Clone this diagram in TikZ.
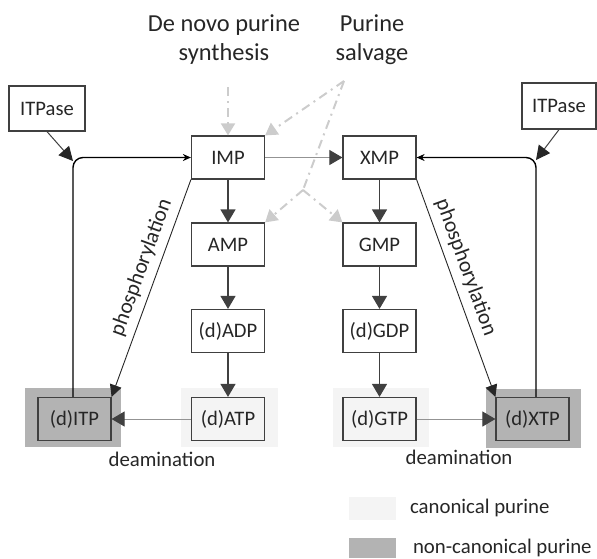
\documentclass[tikz,border=0pt]{standalone}
\usepackage{fontspec}
\setmainfont{Carlito}
\usepackage{xcolor}
\usetikzlibrary{arrows.meta}
\definecolor{boxline}{HTML}{404040}
\definecolor{txtgray}{HTML}{262626}
\definecolor{noncan}{HTML}{B3B3B3}
\definecolor{canon}{HTML}{F4F4F4}
\definecolor{salv}{HTML}{CCCCCC}

\begin{document}
\begin{tikzpicture}[x=0.5pt,y=-0.5pt,
  mol/.style={draw=boxline,line width=0.6pt,minimum width=36.5pt,minimum height=21.5pt,inner sep=0pt,text=txtgray,font=\fontsize{10.3}{12}\selectfont},
  lbl/.style={text=txtgray,font=\fontsize{10.4}{12}\selectfont},
  chain/.style={draw=boxline,line width=0.6pt,-{Triangle[length=6.5pt,width=7.5pt]}},
  thinarr/.style={draw=gray!85,line width=0.5pt,-{Triangle[length=6.5pt,width=7.5pt,color=boxline]}},
  loop/.style={draw=black,line width=0.7pt,rounded corners=5pt,-{Stealth[length=4pt,width=3.5pt]}},
  itparr/.style={draw=boxline,line width=0.5pt,-{Triangle[length=7pt,width=7pt,color=black!85]}},
  phos/.style={draw=black!85,line width=0.45pt,-{Triangle[length=6pt,width=6pt]}},
  salvage/.style={draw=salv,line width=1pt,dash pattern=on 4.5pt off 2.5pt on 1pt off 2.5pt,-{Triangle[length=6pt,width=7pt]}}
]
%\draw[help lines](0,0)grid(597,558);
\useasboundingbox (0,0) rectangle (597,558);

% shaded backgrounds
\fill[noncan] (25,388) rectangle (121,447);
\fill[canon] (181,388) rectangle (278,447);
\fill[canon] (333,388) rectangle (429,447);
\fill[noncan] (486,389) rectangle (581,448);

\node[lbl,font=\fontsize{12.2}{14.5}\selectfont,align=center] (denovo) at (224,40) {De novo purine\\synthesis};
\node[lbl,font=\fontsize{12.2}{14.5}\selectfont,align=center] (salvtxt) at (372,40) {Purine\\salvage};

\node[mol,minimum width=38pt,minimum height=22.5pt] (itpl) at (47,108.5) {ITPase};
\node[mol,minimum width=37pt,minimum height=23pt] (itpr) at (559,106) {ITPase};

\node[mol] (imp) at (228,157.5) {IMP};
\node[mol] (xmp) at (379.5,157.5) {XMP};
\node[mol] (amp) at (228,244.5) {AMP};
\node[mol] (gmp) at (379.5,244.5) {GMP};
\node[mol] (dadp) at (228,331) {(d)ADP};
\node[mol] (dgdp) at (379.5,331) {(d)GDP};
\node[mol] (datp) at (228,419) {(d)ATP};
\node[mol] (dgtp) at (379.5,419) {(d)GTP};
\node[mol,fill=noncan] (ditp) at (74.5,419) {(d)ITP};
\node[mol,fill=noncan] (dxtp) at (532.5,419) {(d)XTP};

\coordinate (dn) at (228,87);
\coordinate (sv) at (344,81);
\coordinate (br) at (303,190);
\coordinate (cl) at (73,161);
\coordinate (cr) at (536,160);

% synthesis and salvage
\draw[salvage] (dn) -- (imp.north);
\draw[salvage] (sv) -- (imp.north east);
\draw[salvage,-] (sv) -- (br);
\draw[salvage] (br) -- (amp.north east);
\draw[salvage] (br) -- (gmp.north west);

\draw[thinarr] (imp) -- (xmp);
\draw[chain] (imp) -- (amp);
\draw[chain] (amp) -- (dadp);
\draw[chain] (dadp) -- (datp);
\draw[chain] (xmp) -- (gmp);
\draw[chain] (gmp) -- (dgdp);
\draw[chain] (dgdp) -- (dgtp);

\draw[thinarr] (datp) -- (ditp);
\draw[thinarr] (dgtp) -- (dxtp);
\node[lbl] (deaml) at (162,459) {deamination};
\node[lbl] (deamr) at (459,457) {deamination};

\draw[phos] (imp.south west) -- node[lbl,font=\fontsize{10.8}{12}\selectfont,sloped,above,pos=0.43] {phosphorylation} (ditp.north east);
\draw[phos] (xmp.south east) -- node[lbl,font=\fontsize{10.8}{12}\selectfont,sloped,above,pos=0.43] {phosphorylation} (dxtp.north west);

% ITPase loops
\draw[loop] (ditp.north -| cl) |- (imp.west);
\draw[loop] (dxtp.north -| cr) |- (xmp.east);
\draw[itparr] (itpl.south) -- (cl);
\draw[itparr] (itpr.south) -- (cr);

% legend
\fill[canon] (349,497) rectangle (396,520);
\fill[noncan] (349,538) rectangle (396,558);
\node[lbl,anchor=west] (canlbl) at (403,508) {canonical purine};
\node[lbl,anchor=west] (noncanlbl) at (406,548) {non-canonical purine};
\end{tikzpicture}
\end{document}
